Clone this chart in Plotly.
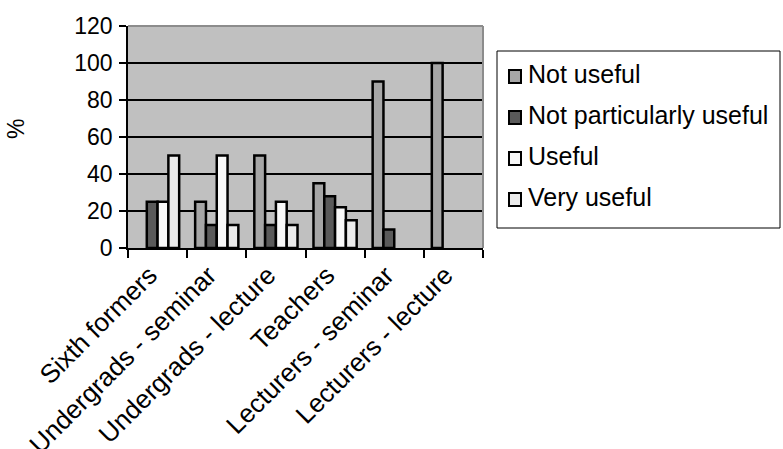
import plotly.graph_objects as go

# Survey responses (%) by audience group
categories = [
    "Sixth formers",
    "Undergrads - seminar",
    "Undergrads - lecture",
    "Teachers",
    "Lecturers - seminar",
    "Lecturers - lecture",
]
not_useful = [0, 25, 50, 35, 90, 100]
not_particularly_useful = [25, 12.5, 12.5, 28, 10, 0]
useful = [25, 50, 25, 22, 0, 0]
very_useful = [50, 12.5, 12.5, 15, 0, 0]

series = [
    ("Not useful", not_useful, "#a6a6a6"),
    ("Not particularly useful", not_particularly_useful, "#5a5a5a"),
    ("Useful", useful, "#f8f8f8"),
    ("Very useful", very_useful, "#ebebeb"),
]

FONT = "Liberation Sans, Arial, Helvetica, sans-serif"

# plot area in pixels (for placing the legend box outside it)
W, H = 783, 449
L, R, T, B = 128, 300, 26, 201
PW, PH = W - L - R, H - T - B


def px_x(px):
    return (px - L) / PW


def px_y(py):
    return (H - B - py) / PH


fig = go.Figure()
for name, vals, color in series:
    # empty categories get no bar at all (not even an outline at the base)
    fig.add_trace(go.Bar(
        x=categories,
        y=[v if v else None for v in vals],
        name=name,
        marker=dict(color=color, line=dict(color="black", width=2.5)),
        showlegend=False,
    ))

# legend drawn as a framed box with swatches and labels
shapes = [
    dict(type="rect", xref="paper", yref="paper",
         x0=px_x(497), x1=px_x(780), y0=px_y(228), y1=px_y(51),
         line=dict(color="black", width=1), fillcolor="white", layer="above"),
    # grey frame along the top and right edges of the plot area
    dict(type="line", xref="paper", yref="paper", x0=0, x1=1, y0=1, y1=1,
         line=dict(color="#8c8c8c", width=2), layer="above"),
    dict(type="line", xref="paper", yref="paper", x0=1, x1=1, y0=0, y1=1,
         line=dict(color="#8c8c8c", width=2), layer="above"),
]
annotations = [
    dict(
        text="%",
        xref="paper", yref="paper",
        x=px_x(16), y=px_y(129),
        xanchor="center", yanchor="middle",
        textangle=-90,
        showarrow=False,
        font=dict(family=FONT, size=23, color="black"),
    )
]
row_gap = 41
for i, (name, _, color) in enumerate(series):
    base = 83 + i * row_gap  # text baseline of this legend row
    shapes.append(dict(
        type="rect", xref="paper", yref="paper",
        x0=px_x(509), x1=px_x(521), y0=px_y(base), y1=px_y(base - 13),
        line=dict(color="black", width=2), fillcolor=color, layer="above",
    ))
    annotations.append(dict(
        text=name, xref="paper", yref="paper",
        x=px_x(526), y=px_y(base - 9),
        xanchor="left", yanchor="middle", showarrow=False,
        font=dict(family=FONT, size=25, color="black"),
    ))

fig.update_layout(
    width=W,
    height=H,
    margin=dict(l=L, r=R, t=T, b=B, autoexpand=False),
    paper_bgcolor="white",
    plot_bgcolor="#c0c0c0",
    barmode="group",
    bargap=0.27,
    bargroupgap=0,
    font=dict(family=FONT, color="black"),
    showlegend=False,
    xaxis=dict(
        automargin=False,
        showline=True,
        linecolor="black",
        linewidth=1.5,
        ticks="outside",
        tickson="boundaries",
        ticklen=8,
        tickwidth=1.5,
        tickcolor="black",
        tickangle=-45,
        ticklabelshift=-8,
        tickfont=dict(family=FONT, size=26, color="black"),
        showgrid=False,
    ),
    yaxis=dict(
        automargin=False,
        range=[0, 120],
        tickvals=[0, 20, 40, 60, 80, 100, 120],
        showline=True,
        linecolor="black",
        linewidth=1.5,
        ticks="outside",
        ticklen=7,
        tickwidth=1.5,
        tickcolor="black",
        ticklabelstandoff=2,
        tickfont=dict(family=FONT, size=23, color="black"),
        showgrid=True,
        gridcolor="black",
        gridwidth=1.5,
        zeroline=False,
    ),
    annotations=annotations,
    shapes=shapes,
)

fig.write_html("out.html")
